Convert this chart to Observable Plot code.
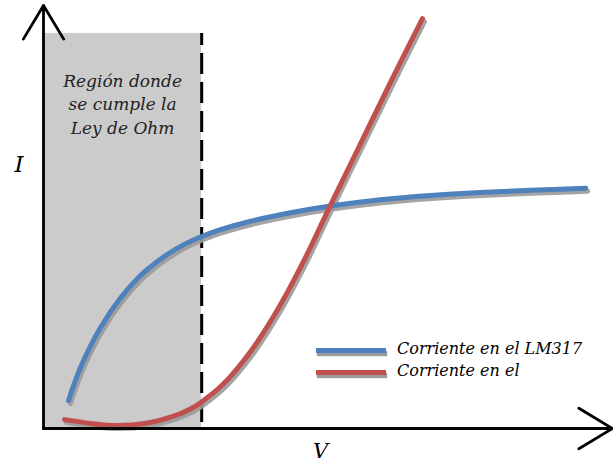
<!DOCTYPE html>
<html><head><meta charset="utf-8">
<script src="https://cdn.jsdelivr.net/npm/d3@7"></script>
<script src="https://cdn.jsdelivr.net/npm/@observablehq/plot@0.6"></script>
<style>
body{margin:0;background:#fff;}
#wrap{position:relative;width:613px;height:465px;overflow:hidden;}
#legend{position:absolute;left:316px;top:339px;font-family:"DejaVu Serif",serif;font-style:italic;font-size:16px;color:#000;}
.row{display:flex;align-items:center;height:22px;}
.row span{position:relative;top:-2px;}
.sw{width:70px;height:5px;margin-right:11px;box-shadow:1px 3px 1px #9a9a9a;}
</style>
</head><body><div id="wrap"><div id="legend"></div></div>
<script>
// Series: V (arbitrary units) vs I (arbitrary units)
const seriesNames = ["Corriente en el LM317", "Corriente en el"];
const seriesColors = ["#4F81BD", "#C0504D"];
const lmV = [4.4, 6.5, 10.0, 13.5, 17.0, 18.8, 21.8, 25.0, 27.8, 31.1, 36.4, 43.4, 50.4, 59.2, 68.0, 76.8, 85.6, 95.3];
const lmI = [6.6, 14.4, 23.8, 30.8, 36.1, 38.2, 41.2, 43.7, 45.4, 47.0, 49.0, 51.0, 52.6, 54.1, 55.1, 55.8, 56.3, 56.8];
const elV = [3.7, 8.3, 12.7, 18.3, 22.9, 25.8, 27.6, 31.6, 36.4, 41.1, 45.7, 50.4, 55.2, 56.9, 62.7, 66.6];
const elI = [2.1, 1.2, 0.7, 1.3, 2.9, 4.6, 6.1, 10.5, 18.2, 28.0, 39.5, 52.7, 65.9, 70.6, 86.5, 96.9];
const ohmRegionV = [0, 27.8];
const ohmRegionI = [0, 93.4];
const regionLabel = ["Región donde", "se cumple la", "Ley de Ohm"];
const xLabel = "V";
const yLabel = "I";

const lm = lmV.map((v, i) => ({V: v, I: lmI[i]}));
const el = elV.map((v, i) => ({V: v, I: elI[i]}));
const series = [lm, el];
const font = "DejaVu Serif";
const curve = "catmull-rom";

const shadow = {dx: 2, dy: 3, stroke: "#9a9a9a", strokeWidth: 5, curve, strokeOpacity: 0.9};

const chart = Plot.plot({
  width: 613, height: 465,
  marginLeft: 43, marginRight: 1, marginTop: 5, marginBottom: 37,
  x: {domain: [0, 100], axis: null},
  y: {domain: [0, 100], axis: null},
  style: {fontFamily: font, background: "#fff"},
  marks: [
    Plot.rect([{x1: ohmRegionV[0], x2: ohmRegionV[1], y1: ohmRegionI[0], y2: ohmRegionI[1]}],
      {x1: "x1", x2: "x2", y1: "y1", y2: "y2", fill: "#cbcbcb"}),
    Plot.ruleX([ohmRegionV[1]], {y1: ohmRegionI[1], y2: ohmRegionI[0], stroke: "#000", strokeWidth: 3, strokeDasharray: "12,8,21,8,21,8,21,8,21,8,21,8,21,8,21,8,21,8,21,8,21,8,21,8,21,8,21,8"}),
    Plot.text([regionLabel.join("\n")], {x: ohmRegionV[1] / 2, y: 77, fontSize: 17, fontStyle: "italic", lineHeight: 1.38, fill: "#222", textAnchor: "middle"}),
    ...series.map(d => Plot.line(d, {x: "V", y: "I", ...shadow})),
    ...series.map((d, i) => Plot.line(d, {x: "V", y: "I", stroke: seriesColors[i], strokeWidth: 5, curve})),
    Plot.arrow([{x1: 0, y1: 0, x2: 0, y2: 100}, {x1: 0, y1: 0, x2: 100, y2: 0}],
      {x1: "x1", y1: "y1", x2: "x2", y2: "y2", stroke: "#000", strokeWidth: 2.8, headLength: 21, headAngle: 62}),
    Plot.text([yLabel], {frameAnchor: "left", dx: -29, y: 62.4, fontSize: 23, fontStyle: "italic", fill: "#000"}),
    Plot.text([xLabel], {frameAnchor: "bottom", x: 48.7, dy: 29, fontSize: 21, fontStyle: "italic", fill: "#000"})
  ]
});
document.getElementById("wrap").prepend(chart);

const legend = document.getElementById("legend");
seriesNames.forEach((name, i) => {
  const row = document.createElement("div");
  row.className = "row";
  const sw = document.createElement("div");
  sw.className = "sw";
  sw.style.background = seriesColors[i];
  const t = document.createElement("span");
  t.textContent = name;
  row.append(sw, t);
  legend.append(row);
});
</script>
</body></html>
